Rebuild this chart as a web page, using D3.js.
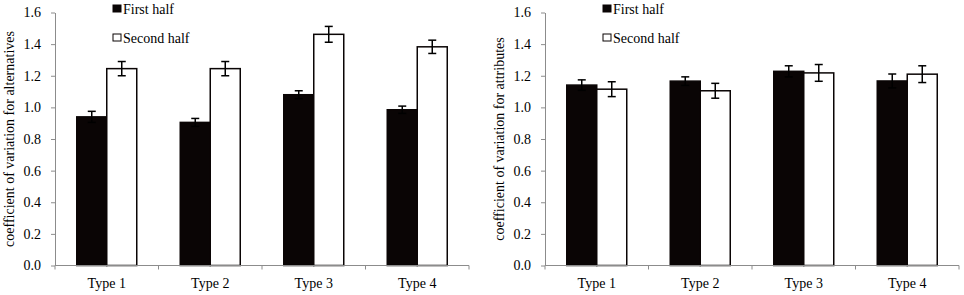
<!DOCTYPE html>
<html>
<head>
<meta charset="utf-8">
<script src="https://cdn.jsdelivr.net/npm/d3@7"></script>
<style>
  body { margin: 0; background: #fff; }
  svg text { font-family: "Liberation Serif", Tinos, "Times New Roman", "Nimbus Roman", "DejaVu Serif", serif !important; }
</style>
</head>
<body>
<div id="container"></div>
<script>
let types = ["Type 1", "Type 2", "Type 3", "Type 4"];
let seriesNames = ["First half", "Second half"];
let yTicks = [0, 0.2, 0.4, 0.6, 0.8, 1.0, 1.2, 1.4, 1.6];

// panel A: alternatives
let altFirst = [0.94, 0.905, 1.08, 0.985];
let altFirstErr = [0.035, 0.025, 0.025, 0.023];
let altSecond = [1.245, 1.245, 1.462, 1.383];
let altSecondErr = [0.045, 0.045, 0.05, 0.042];

// panel B: attributes
let attFirst = [1.141, 1.166, 1.228, 1.167];
let attFirstErr = [0.033, 0.027, 0.035, 0.044];
let attSecond = [1.115, 1.105, 1.218, 1.21];
let attSecondErr = [0.047, 0.047, 0.053, 0.053];

let w = 964;
let h = 295;
let viz = d3.select("#container").append("svg")
    .attr("width", w)
    .attr("height", h)
    .style("background-color", "white");

function drawPanel(left, right, title, first, firstErr, second, secondErr) {
    let top = 12.5;
    let bottom = 265.5;
    let g = viz.append("g");

    let yScale = d3.scaleLinear().domain([0, 1.6]).range([bottom, top]);
    let x0 = d3.scaleBand().domain(types).range([left, right]).padding(0);
    let x1 = d3.scaleBand().domain(seriesNames).range([0, x0.bandwidth()])
        .paddingInner(0).paddingOuter(0.725);

    let rows = types.map(function(t, i) {
        return [
            {type: t, s: seriesNames[0], v: first[i], e: firstErr[i]},
            {type: t, s: seriesNames[1], v: second[i], e: secondErr[i]}
        ];
    }).flat();

    // bars
    g.selectAll("rect.bar").data(rows).enter().append("rect")
        .attr("class", "bar")
        .attr("x", function(d) { return x0(d.type) + x1(d.s); })
        .attr("y", function(d) { return yScale(d.v); })
        .attr("width", x1.bandwidth())
        .attr("height", function(d) { return yScale(0) - yScale(d.v); })
        .attr("fill", function(d) { return d.s == seriesNames[0] ? "#0a0505" : "#fff"; })
        .attr("stroke", "#0a0505")
        .attr("stroke-width", 1.5);

    // error bars
    let cap = 4;
    let eb = g.selectAll("g.err").data(rows).enter().append("g").attr("class", "err")
        .attr("stroke", "#000").attr("stroke-width", 1.5);
    function cx(d) { return x0(d.type) + x1(d.s) + x1.bandwidth() / 2; }
    eb.append("line")
        .attr("x1", cx).attr("x2", cx)
        .attr("y1", function(d) { return yScale(d.v + d.e); })
        .attr("y2", function(d) { return yScale(d.v - d.e); });
    eb.append("line")
        .attr("x1", function(d) { return cx(d) - cap; })
        .attr("x2", function(d) { return cx(d) + cap; })
        .attr("y1", function(d) { return yScale(d.v + d.e); })
        .attr("y2", function(d) { return yScale(d.v + d.e); });
    eb.append("line")
        .attr("x1", function(d) { return cx(d) - cap; })
        .attr("x2", function(d) { return cx(d) + cap; })
        .attr("y1", function(d) { return yScale(d.v - d.e); })
        .attr("y2", function(d) { return yScale(d.v - d.e); });

    // y axis
    let yAxis = d3.axisLeft(yScale).tickValues(yTicks).tickFormat(d3.format(".1f"))
        .tickSize(4).tickSizeOuter(0);
    let yAxisGroup = g.append("g").attr("transform", "translate(" + left + ",0)").call(yAxis);
    yAxisGroup.attr("font-family", null);
    yAxisGroup.selectAll("path, line").attr("stroke", "#8c8c8c");
    yAxisGroup.selectAll("text")
        .attr("x", -14)
        .style("font-size", "14px")
        .attr("fill", "#000");

    // x axis, ticks at category boundaries
    let xAxisGroup = g.append("g").attr("transform", "translate(0," + bottom + ")");
    xAxisGroup.append("line")
        .attr("x1", left).attr("x2", right)
        .attr("stroke", "#8c8c8c");
    let bounds = types.map(function(t) { return x0(t); }).concat([right]);
    xAxisGroup.selectAll("line.tick").data(bounds).enter().append("line")
        .attr("class", "tick")
        .attr("x1", function(d) { return d; }).attr("x2", function(d) { return d; })
        .attr("y1", 0).attr("y2", 4)
        .attr("stroke", "#8c8c8c");
    xAxisGroup.selectAll("text").data(types).enter().append("text")
        .attr("x", function(d) { return x0(d) + x0.bandwidth() / 2; })
        .attr("y", 22)
        .attr("text-anchor", "middle")
        .style("font-size", "14px")
        .text(function(d) { return d; });

    // y title
    g.append("text")
        .attr("transform", "translate(" + (left - 41) + "," + ((top + bottom) / 2) + ") rotate(-90)")
        .attr("text-anchor", "middle")
        .style("font-size", "14px")
        .text(title);

    // legend
    let lx = left + 58;
    let leg = g.selectAll("g.leg").data(seriesNames).enter().append("g").attr("class", "leg")
        .attr("transform", function(d, i) { return "translate(" + lx + "," + (i * 29) + ")"; });
    leg.append("rect")
        .attr("x", 0).attr("y", 5)
        .attr("width", 8).attr("height", 7)
        .attr("fill", function(d, i) { return i == 0 ? "#0a0505" : "#fff"; })
        .attr("stroke", "#0a0505").attr("stroke-width", 1);
    leg.append("text")
        .attr("x", 10).attr("y", 13.5)
        .style("font-size", "14px")
        .text(function(d) { return d; });
}

drawPanel(55, 469, "coefficient of variation for alternatives", altFirst, altFirstErr, altSecond, altSecondErr);
drawPanel(545, 959, "coefficient of variation for attributes", attFirst, attFirstErr, attSecond, attSecondErr);
</script>
</body>
</html>
